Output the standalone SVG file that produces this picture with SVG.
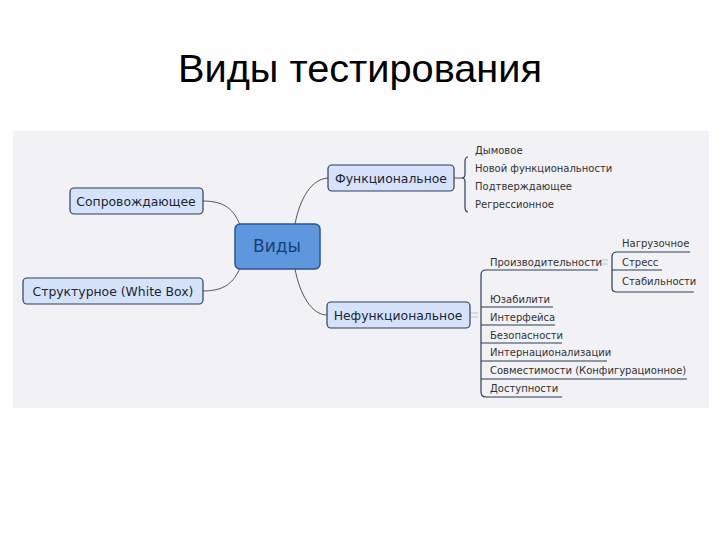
<svg xmlns="http://www.w3.org/2000/svg" width="720" height="540" viewBox="0 0 720 540">
<style>
.title{font-family:"Liberation Sans","DejaVu Sans",sans-serif;font-size:39px;fill:#000}
.node{fill:#d5e3fa;stroke:#2f3f58;stroke-width:1.2}
.root{fill:#5f97de;stroke:#2a568f;stroke-width:1.5}
.nt{font-family:"DejaVu Sans",Verdana,sans-serif;font-size:12.4px;fill:#1b2433;text-anchor:middle;dominant-baseline:central}
.rt{font-family:"DejaVu Sans",Verdana,sans-serif;font-size:17px;fill:#17407a;text-anchor:middle;dominant-baseline:central}
.it{font-family:"DejaVu Sans",Verdana,sans-serif;font-size:10px;fill:#333;dominant-baseline:central}
.con{fill:none;stroke:#555;stroke-width:1}
.br{fill:none;stroke:#2d3e56;stroke-width:1.2}
.ul{fill:none;stroke:#2d3e56;stroke-width:1.2}
.eq{fill:none;stroke:#b8c4d4;stroke-width:1}
</style>
<rect x="0" y="0" width="720" height="540" fill="#fff"/>
<text class="title" x="360" y="82" text-anchor="middle" textLength="364" lengthAdjust="spacingAndGlyphs">Виды тестирования</text>
<rect x="13" y="131" width="696" height="277" fill="#f1f1f6"/>

<g id="connectors">
<path class="con" d="M203,201 C225,201 234,210 240,225"/>
<path class="con" d="M203,291 C225,291 234,282 240,268"/>
<path class="con" d="M295,224 C300,198 312,178 329,178"/>
<path class="con" d="M295,269 C300,295 312,315 327,315"/>
<path class="con" d="M454,178 L463,178"/>
<path class="br" d="M468,157 Q465,157 465,162 L465,174 Q465,178 462,178 Q465,178 465,182 L465,207 Q465,212 468,212"/>
<path class="eq" d="M471,313 L478,313 M471,317 L478,317"/>
<path class="eq" d="M601,260 L608,260 M601,264 L608,264"/>
<path class="br" d="M481,275 Q481,270 486,270 L598,270"/>
<path class="br" d="M481,275 L481,392 Q481,397 486,397"/>
<path class="br" d="M612,257 Q612,252 617,252 L690,252"/>
<path class="br" d="M612,257 L612,288 Q612,292 617,292"/>
</g>

<g id="root"><rect class="root" x="235" y="224" width="85" height="45" rx="5"/><text class="rt" x="277" y="246">Виды</text></g>
<g id="func"><rect class="node" x="328" y="165" width="126" height="26" rx="4"/><text class="nt" x="391" y="178">Функциональное</text></g>
<g id="sopr"><rect class="node" x="70" y="188" width="133" height="26" rx="4"/><text class="nt" x="136" y="201">Сопровождающее</text></g>
<g id="struct"><rect class="node" x="23" y="278" width="180" height="26" rx="4"/><text class="nt" x="113" y="291">Структурное (White Box)</text></g>
<g id="nefunc"><rect class="node" x="327" y="302" width="143" height="26" rx="4"/><text class="nt" x="398" y="315">Нефункциональное</text></g>

<g id="func-items">
<text class="it" x="475" y="150">Дымовое</text>
<text class="it" x="475" y="168">Новой функциональности</text>
<text class="it" x="475" y="186">Подтверждающее</text>
<text class="it" x="475" y="204">Регрессионное</text>
</g>

<g id="perf"><text class="it" x="490" y="262">Производительности</text></g>
<g id="perf-items">
<text class="it" x="622" y="243">Нагрузочное</text>
<path class="ul" d="M612,270 L662,270"/>
<text class="it" x="622" y="262">Стресс</text>
<path class="ul" d="M617,292 L694,292"/>
<text class="it" x="622" y="281">Стабильности</text>
</g>

<g id="nefunc-items">
<text class="it" x="490" y="299">Юзабилити</text>
<path class="ul" d="M481,307 L553,307"/>
<text class="it" x="490" y="317">Интерфейса</text>
<path class="ul" d="M481,325 L555,325"/>
<text class="it" x="490" y="335">Безопасности</text>
<path class="ul" d="M481,343 L562,343"/>
<text class="it" x="490" y="352">Интернационализации</text>
<path class="ul" d="M481,361 L607,361"/>
<text class="it" x="490" y="370">Совместимости (Конфигурационное)</text>
<path class="ul" d="M481,379 L687,379"/>
<text class="it" x="490" y="388">Доступности</text>
<path class="ul" d="M486,397 L562,397"/>
</g>
</svg>
